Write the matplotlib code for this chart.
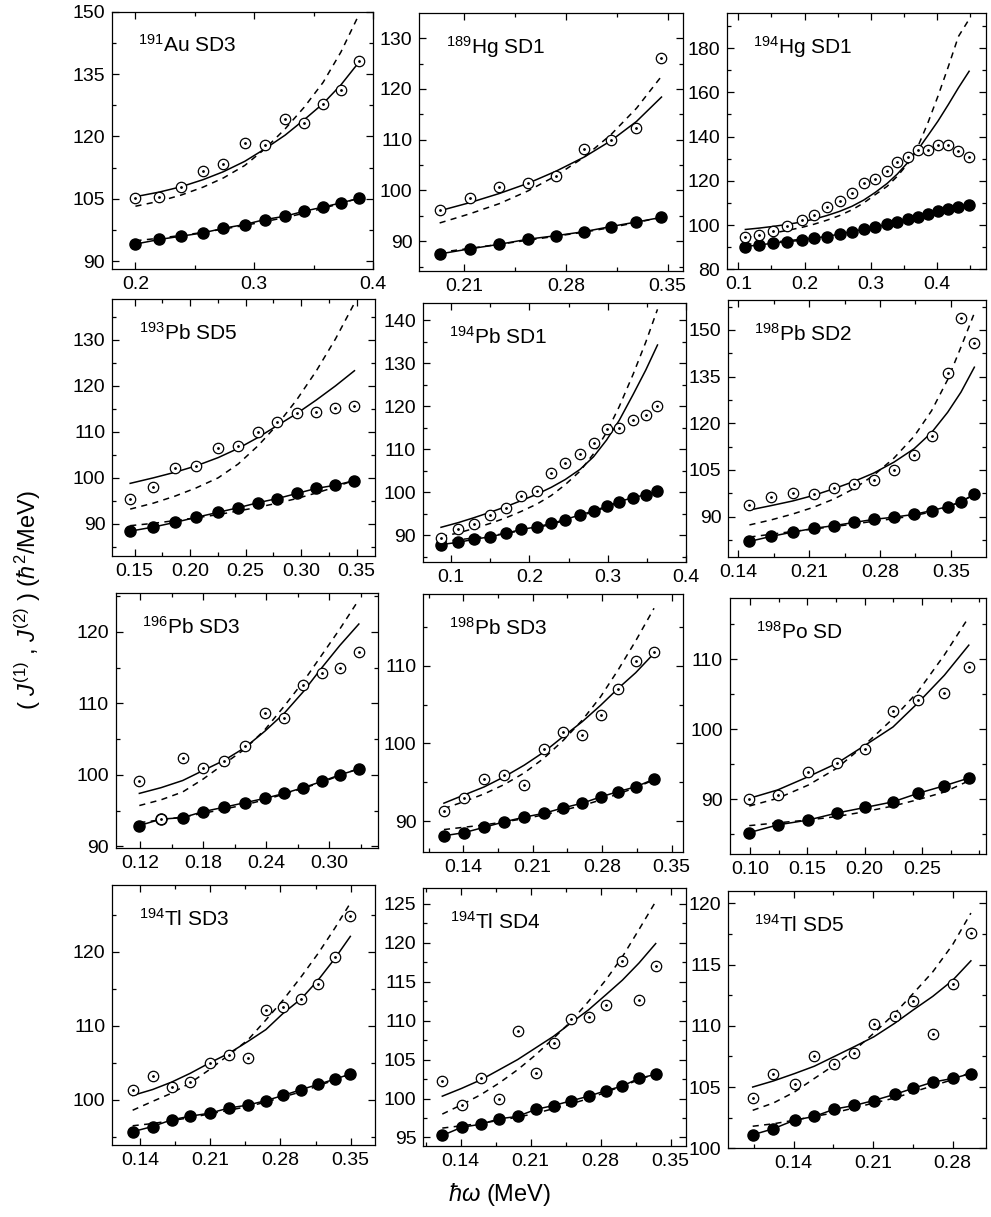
import matplotlib
matplotlib.use("Agg")
from matplotlib import pyplot as plt
from matplotlib.ticker import AutoMinorLocator, FormatStrFormatter

plt.rcParams["font.family"] = ["Liberation Sans", "DejaVu Sans"]
plt.rcParams["mathtext.fontset"] = "custom"
plt.rcParams["mathtext.rm"] = "Liberation Sans"
plt.rcParams["mathtext.it"] = "Liberation Sans:italic"
plt.rcParams["mathtext.bf"] = "Liberation Sans:bold"

# 191Au SD3
au191_x = [0.200, 0.220, 0.2386, 0.257, 0.274, 0.292, 0.309, 0.326, 0.342, 0.358, 0.373, 0.388]
au191_open = [105.3, 105.5, 107.8, 111.7, 113.4, 118.3, 117.9, 124.3, 123.2, 127.8, 131.2, 138.1]
au191_filled = [94.1, 95.2, 96.0, 96.8, 97.9, 98.8, 100.0, 100.8, 102.0, 103.0, 104.0, 105.1]
au191_solid = [105.5, 106.6, 107.9, 109.6, 111.5, 114.0, 117.0, 120.3, 124.0, 127.9, 132.4, 137.8]
au191_dash = [103.2, 104.4, 105.9, 107.8, 110.0, 113.0, 117.0, 121.8, 127.0, 133.0, 140.3, 149.2]
au191_dash_lo = [94.9, 95.5, 96.2, 96.9, 97.7, 98.6, 99.5, 100.5, 101.5, 102.7, 103.9, 105.1]

# 189Hg SD1
hg189_x = [0.193, 0.2137, 0.234, 0.2537, 0.2731, 0.2926, 0.3109, 0.3285, 0.3457]
hg189_open = [96.1, 98.5, 100.6, 101.4, 102.9, 108.2, 110.0, 112.3, 126.1]
hg189_filled = [87.5, 88.5, 89.4, 90.4, 91.1, 91.9, 92.9, 93.8, 94.7]
hg189_solid = [96.0, 97.6, 99.4, 101.4, 103.8, 106.6, 109.8, 113.6, 118.4]
hg189_dash = [93.6, 95.4, 97.4, 99.9, 102.9, 106.6, 111.0, 116.2, 122.5]
hg189_dash_lo = [87.8, 88.6, 89.4, 90.2, 91.0, 91.8, 92.7, 93.7, 94.7]

# 194Hg SD1
hg194_x = [0.1106, 0.1308, 0.153, 0.1742, 0.1955, 0.2146, 0.2338, 0.253, 0.2717, 0.2894,
           0.307, 0.3247, 0.3399, 0.3566, 0.3717, 0.3864, 0.4015, 0.4172, 0.4323, 0.4485]
hg194_open = [94.8, 95.5, 97.5, 99.4, 102.2, 104.5, 108.2, 110.9, 114.5, 119.0,
              120.9, 124.4, 128.4, 130.6, 134.1, 134.1, 136.3, 136.3, 133.3, 130.8]
hg194_filled = [90.3, 91.0, 91.8, 92.5, 93.1, 94.2, 94.8, 96.0, 97.0, 98.1,
                99.1, 100.4, 101.5, 102.7, 103.7, 105.1, 106.4, 107.3, 108.2, 109.0]
hg194_solid = [98.0, 98.6, 99.4, 100.3, 101.4, 102.7, 104.3, 106.2, 108.5, 111.3,
               114.8, 118.8, 123.0, 128.5, 134.3, 140.5, 147.0, 154.5, 162.0, 169.5]
hg194_dash = [94.3, 95.3, 96.4, 97.6, 98.9, 100.4, 102.2, 104.3, 106.9, 110.0,
              113.8, 117.5, 122.0, 128.0, 135.9, 146.3, 158.3, 171.7, 185.2, 193.0]
hg194_dash_lo = [91.2, 91.7, 92.3, 92.9, 93.6, 94.3, 95.1, 95.9, 96.8, 97.8,
                 98.8, 99.9, 101.0, 102.2, 103.4, 104.6, 105.9, 107.1, 108.3, 109.4]

# 193Pb SD5
pb193_x = [0.1461, 0.167, 0.1862, 0.2054, 0.2253, 0.2433, 0.2613, 0.2787, 0.2961, 0.3135, 0.3309, 0.348]
pb193_open = [95.5, 98.1, 102.1, 102.6, 106.4, 107.0, 109.9, 112.2, 114.0, 114.3, 115.3, 115.6]
pb193_filled = [88.4, 89.3, 90.3, 91.4, 92.5, 93.5, 94.6, 95.5, 96.6, 97.7, 98.4, 99.4]
pb193_solid = [98.8, 100.0, 101.2, 102.6, 104.4, 106.4, 108.8, 111.4, 114.0, 116.9, 120.0, 123.3]
pb193_dash = [93.2, 94.5, 96.0, 97.8, 100.0, 103.0, 107.0, 111.6, 117.0, 123.2, 130.2, 138.0]
pb193_dash_lo = [89.6, 90.1, 90.7, 91.3, 92.0, 92.8, 93.6, 94.5, 95.5, 96.7, 98.0, 99.5]

# 194Pb SD1
pb194_x = [0.0872, 0.1094, 0.1287, 0.15, 0.17, 0.1896, 0.2096, 0.228, 0.2457, 0.2649,
           0.2819, 0.2986, 0.3148, 0.3325, 0.3487, 0.3636]
pb194_open = [89.5, 91.6, 92.6, 94.8, 96.4, 99.2, 100.4, 104.6, 106.8, 108.9,
              111.4, 114.7, 115.1, 116.9, 118.0, 120.0]
pb194_filled = [87.9, 88.4, 89.1, 89.7, 90.5, 91.4, 92.0, 92.8, 93.7, 94.8,
                95.7, 96.8, 97.9, 98.8, 99.5, 100.3]
pb194_solid = [91.9, 93.0, 94.1, 95.4, 96.7, 98.1, 99.6, 101.2, 103.0, 105.4,
               108.3, 112.2, 116.8, 122.8, 128.5, 134.3]
pb194_dash = [89.7, 90.6, 91.6, 92.8, 94.1, 95.6, 97.3, 99.3, 101.8, 105.0,
              109.0, 114.0, 120.0, 127.5, 135.0, 142.6]
pb194_dash_lo = [88.6, 89.0, 89.4, 89.9, 90.5, 91.1, 91.8, 92.6, 93.5, 94.5,
                 95.5, 96.6, 97.7, 98.8, 99.8, 100.8]

# 198Pb SD2
pb198a_x = [0.1509, 0.1721, 0.1936, 0.2144, 0.2349, 0.2544, 0.2739, 0.2938, 0.3137, 0.3309, 0.3468, 0.36, 0.3732]
pb198a_open = [93.75, 96.4, 97.5, 97.2, 99.1, 100.5, 101.8, 104.8, 109.8, 116.0, 136.1, 153.75, 145.7]
pb198a_filled = [82.0, 83.6, 85.0, 86.2, 87.1, 88.1, 89.1, 89.8, 90.7, 91.9, 93.2, 94.8, 97.2]
pb198a_solid = [92.1, 93.5, 95.0, 96.8, 99.0, 101.3, 104.0, 107.5, 111.8, 117.0, 123.5, 130.0, 138.0]
pb198a_dash = [87.3, 88.9, 90.8, 93.0, 95.7, 99.0, 103.3, 108.8, 115.8, 124.0, 134.0, 144.5, 155.4]
pb198a_dash_lo = [83.4, 84.3, 85.2, 86.0, 86.8, 87.6, 88.5, 89.3, 90.3, 91.5, 93.0, 94.8, 97.0]

# 196Pb SD3
pb196_x = [0.1194, 0.14, 0.1606, 0.18, 0.1997, 0.2197, 0.2387, 0.2571, 0.2751, 0.2935, 0.31, 0.3281]
pb196_open = [99.2, 93.8, 102.4, 101.0, 101.9, 104.0, 108.7, 107.9, 112.5, 114.3, 114.9, 117.2]
pb196_filled = [92.9, 93.8, 94.0, 94.85, 95.45, 96.1, 96.7, 97.4, 98.2, 99.1, 100.0, 100.8]
pb196_solid = [97.4, 98.2, 99.2, 100.6, 102.0, 103.8, 106.1, 108.6, 111.6, 115.1, 118.1, 121.1]
pb196_dash = [95.7, 96.5, 97.6, 99.4, 101.5, 103.6, 106.3, 109.6, 113.0, 116.9, 120.4, 124.5]
pb196_dash_lo = [93.3, 93.7, 94.1, 94.6, 95.2, 95.8, 96.5, 97.3, 98.1, 99.0, 99.9, 100.9]

# 198Pb SD3
pb198b_x = [0.1205, 0.1407, 0.1612, 0.1813, 0.2015, 0.2214, 0.2409, 0.26, 0.2784, 0.2963, 0.3138, 0.3323]
pb198b_open = [91.3, 93.0, 95.4, 95.9, 94.7, 99.3, 101.5, 101.1, 103.7, 107.0, 110.6, 111.8]
pb198b_filled = [88.1, 88.5, 89.2, 89.9, 90.5, 91.0, 91.7, 92.3, 93.1, 93.8, 94.4, 95.4]
pb198b_solid = [92.3, 93.35, 94.4, 95.7, 97.2, 98.9, 100.9, 102.8, 104.9, 107.1, 109.1, 111.6]
pb198b_dash = [91.6, 92.5, 93.5, 94.7, 96.2, 98.1, 100.4, 103.0, 106.0, 109.5, 113.2, 117.4]
pb198b_dash_lo = [88.9, 89.2, 89.5, 89.9, 90.3, 90.8, 91.4, 92.0, 92.7, 93.5, 94.3, 95.3]

# 198Po SD
po198_x = [0.0994, 0.1241, 0.1509, 0.1757, 0.2005, 0.2247, 0.2462, 0.2695, 0.2908]
po198_open = [90.0, 90.6, 93.9, 95.1, 97.1, 102.6, 104.1, 105.2, 108.9]
po198_filled = [85.2, 86.3, 87.0, 88.0, 88.8, 89.6, 90.8, 91.9, 93.0]
po198_solid = [90.1, 91.3, 93.2, 95.1, 97.7, 100.3, 103.7, 107.7, 112.0]
po198_dash = [89.0, 90.1, 92.0, 94.4, 97.8, 101.5, 105.3, 110.6, 116.0]
po198_dash_lo = [86.2, 86.6, 87.0, 87.5, 88.2, 89.0, 89.9, 91.0, 92.6]

# 194Tl SD3
tl3_x = [0.1327, 0.1526, 0.1715, 0.1902, 0.2094, 0.2287, 0.2476, 0.2655, 0.2827, 0.301, 0.3176, 0.3342, 0.3497]
tl3_open = [101.3, 103.2, 101.7, 102.4, 105.0, 106.1, 105.6, 112.1, 112.5, 113.6, 115.6, 119.3, 124.9]
tl3_filled = [95.7, 96.4, 97.3, 97.8, 98.2, 98.9, 99.3, 99.9, 100.6, 101.4, 102.1, 102.8, 103.5]
tl3_solid = [100.6, 101.4, 102.4, 103.6, 105.0, 106.3, 107.9, 109.5, 111.7, 113.7, 116.2, 119.1, 122.1]
tl3_dash = [98.6, 99.8, 100.9, 102.3, 104.1, 106.1, 108.1, 110.8, 113.5, 116.7, 119.8, 123.2, 126.6]
tl3_dash_lo = [96.5, 96.8, 97.2, 97.6, 98.1, 98.6, 99.1, 99.7, 100.4, 101.1, 101.9, 102.7, 103.5]

# 194Tl SD4
tl4_x = [0.1217, 0.141, 0.1603, 0.1787, 0.197, 0.215, 0.233, 0.2503, 0.268, 0.285, 0.3017, 0.3183, 0.335]
tl4_open = [102.3, 99.2, 102.6, 100.0, 108.7, 103.3, 107.1, 110.2, 110.5, 112.0, 117.7, 112.7, 117.0]
tl4_filled = [95.25, 96.3, 96.7, 97.4, 97.7, 98.6, 99.1, 99.7, 100.3, 101.0, 101.6, 102.6, 103.1]
tl4_solid = [100.3, 101.3, 102.4, 103.7, 105.0, 106.5, 108.0, 109.7, 111.4, 113.3, 115.2, 117.4, 119.9]
tl4_dash = [98.0, 99.2, 100.5, 102.0, 103.7, 105.6, 107.75, 109.9, 112.5, 115.2, 118.2, 121.7, 125.3]
tl4_dash_lo = [96.2, 96.5, 96.8, 97.2, 97.6, 98.1, 98.7, 99.3, 100.0, 100.8, 101.6, 102.4, 103.2]

# 194Tl SD5
tl5_x = [0.104, 0.1223, 0.1409, 0.1583, 0.176, 0.1936, 0.2107, 0.229, 0.2455, 0.2626, 0.28, 0.2962]
tl5_open = [104.1, 106.1, 105.25, 107.5, 106.9, 107.8, 110.15, 110.8, 112.05, 109.3, 113.4, 117.6]
tl5_filled = [101.1, 101.6, 102.3, 102.6, 103.2, 103.5, 103.9, 104.4, 104.9, 105.4, 105.7, 106.1]
tl5_solid = [105.0, 105.5, 106.1, 106.7, 107.5, 108.3, 109.1, 110.2, 111.3, 112.4, 113.7, 115.3]
tl5_dash = [103.1, 103.7, 104.6, 105.7, 106.8, 108.0, 109.4, 111.0, 112.65, 114.4, 116.6, 119.2]
tl5_dash_lo = [101.8, 102.0, 102.3, 102.6, 102.9, 103.3, 103.7, 104.1, 104.6, 105.1, 105.6, 106.2]

labels = ["191", "Au SD3", "189", "Hg SD1", "194", "Hg SD1", "193", "Pb SD5", "194", "Pb SD1",
          "198", "Pb SD2", "196", "Pb SD3", "198", "Pb SD3", "198", "Po SD",
          "194", "Tl SD3", "194", "Tl SD4", "194", "Tl SD5"]

series = [
    (au191_x, au191_open, au191_filled, au191_solid, au191_dash, au191_dash_lo),
    (hg189_x, hg189_open, hg189_filled, hg189_solid, hg189_dash, hg189_dash_lo),
    (hg194_x, hg194_open, hg194_filled, hg194_solid, hg194_dash, hg194_dash_lo),
    (pb193_x, pb193_open, pb193_filled, pb193_solid, pb193_dash, pb193_dash_lo),
    (pb194_x, pb194_open, pb194_filled, pb194_solid, pb194_dash, pb194_dash_lo),
    (pb198a_x, pb198a_open, pb198a_filled, pb198a_solid, pb198a_dash, pb198a_dash_lo),
    (pb196_x, pb196_open, pb196_filled, pb196_solid, pb196_dash, pb196_dash_lo),
    (pb198b_x, pb198b_open, pb198b_filled, pb198b_solid, pb198b_dash, pb198b_dash_lo),
    (po198_x, po198_open, po198_filled, po198_solid, po198_dash, po198_dash_lo),
    (tl3_x, tl3_open, tl3_filled, tl3_solid, tl3_dash, tl3_dash_lo),
    (tl4_x, tl4_open, tl4_filled, tl4_solid, tl4_dash, tl4_dash_lo),
    (tl5_x, tl5_open, tl5_filled, tl5_solid, tl5_dash, tl5_dash_lo),
]

# axes boxes in pixels (left, top, right, bottom), limits and ticks
layout = [
    ((111.7, 11.7, 373, 269), (0.18, 0.4), (88.1, 150), [0.2, 0.3, 0.4], [90, 105, 120, 135, 150], "%.1f"),
    ((419.3, 13.3, 682.7, 270.7), (0.179, 0.3603), (84.2, 134.9), [0.21, 0.28, 0.35], [90, 100, 110, 120, 130], "%.2f"),
    ((726.7, 13.3, 986, 269.3), (0.0824, 0.474), (80, 195.7), [0.1, 0.2, 0.3, 0.4], [80, 100, 120, 140, 160, 180], "%.1f"),
    ((112.3, 299, 375, 556), (0.130, 0.3665), (83.0, 138.9), [0.15, 0.20, 0.25, 0.30, 0.35], [90, 100, 110, 120, 130], "%.2f"),
    ((422.7, 303.3, 686, 561.7), (0.0638, 0.4), (83.9, 144.0), [0.1, 0.2, 0.3, 0.4], [90, 100, 110, 120, 130, 140], "%.1f"),
    ((728.3, 300, 986, 557.3), (0.130, 0.3847), (76.9, 159.6), [0.14, 0.21, 0.28, 0.35], [90, 105, 120, 135, 150], "%.2f"),
    ((116, 593.3, 378.3, 847.7), (0.0972, 0.3466), (89.8, 125.4), [0.12, 0.18, 0.24, 0.30], [90, 100, 110, 120], "%.2f"),
    ((423.3, 594.3, 683.3, 851.7), (0.0997, 0.3618), (86.05, 119.2), [0.14, 0.21, 0.28, 0.35], [90, 100, 110], "%.2f"),
    ((730, 598.3, 986, 854.3), (0.0826, 0.3058), (82.1, 118.7), [0.10, 0.15, 0.20, 0.25], [90, 100, 110], "%.2f"),
    ((112.3, 885, 375, 1145), (0.1124, 0.3743), (93.9, 129.05), [0.14, 0.21, 0.28, 0.35], [100, 110, 120], "%.2f"),
    ((423.3, 888.3, 686, 1146), (0.1027, 0.3653), (93.9, 127.0), [0.14, 0.21, 0.28, 0.35], [95, 100, 105, 110, 115, 120, 125], "%.2f"),
    ((728.3, 891, 986, 1148.3), (0.0825, 0.3095), (100, 121.0), [0.14, 0.21, 0.28], [100, 105, 110, 115, 120], "%.2f"),
]

W, H = 991, 1217
fig = plt.figure(figsize=(W / 100, H / 100), dpi=100)

for i in range(12):
    x, y_open, y_filled, y_solid, y_dash, y_dash_lo = series[i]
    (l, t, r, b), xlim, ylim, xt, yt, fmt = layout[i]
    ax = fig.add_axes([l / W, 1 - b / H, (r - l) / W, (b - t) / H])

    ax.plot(x, y_solid, color="k", lw=1.1)
    ax.plot(x, y_dash, color="k", lw=1.1, ls=(0, (4, 3.5)))
    ax.plot(x, y_dash_lo, color="k", lw=1.1, ls=(0, (4, 3.5)))
    ax.plot(x, y_filled, color="k", lw=1.1, marker="o", ms=8, mfc="k", mec="k", zorder=3)
    ax.plot(x, y_open, ls="none", marker="o", ms=7.5, mfc="white", mec="k", mew=0.9, zorder=4)
    ax.plot(x, y_open, ls="none", marker="o", ms=1.0, mfc="k", mec="k", zorder=5)

    ax.set_xlim(*xlim)
    ax.set_ylim(*ylim)
    ax.set_xticks(xt)
    ax.set_yticks(yt)
    ax.xaxis.set_major_formatter(FormatStrFormatter(fmt))
    ax.xaxis.set_minor_locator(AutoMinorLocator(2))
    ax.yaxis.set_minor_locator(AutoMinorLocator(2))
    ax.tick_params(which="both", direction="in", top=True, right=True, labelsize=14, width=0.9)
    ax.tick_params(which="major", length=5, pad=5)
    ax.tick_params(which="minor", length=3)
    for s in ax.spines.values():
        s.set_linewidth(0.9)

    ax.text(0.1, 0.87, r"$\mathregular{^{%s}}$%s" % (labels[2 * i], labels[2 * i + 1]),
            transform=ax.transAxes, fontsize=15, va="center", ha="left")

fig.text(28 / W, 1 - 600 / H, r"( $\mathit{J}^{(1)}$ , $\mathit{J}^{(2)}$ ) ($\hbar^{2}$/MeV)",
         rotation=90, fontsize=17, ha="center", va="center")
fig.text(500 / W, 1 - 1194 / H, r"$\hbar\omega$ (MeV)", fontsize=17, ha="center", va="center")

fig.savefig("out.png", dpi=100)
